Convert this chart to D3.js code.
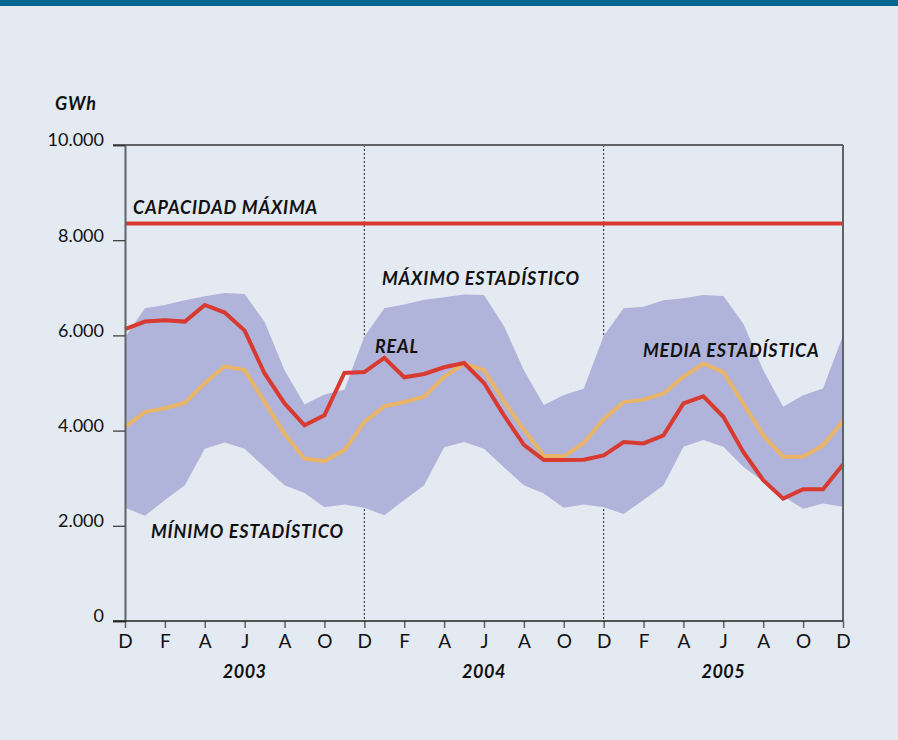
<!DOCTYPE html>
<html>
<head>
<meta charset="utf-8">
<script src="https://cdn.jsdelivr.net/npm/d3@7"></script>
<style>
  body { margin: 0; background: #e3eaf2; }
  svg { display: block; }
</style>
</head>
<body>
<div id="chart"></div>
<script>
(function (d3) {

// monthly values, Dec 2002 .. Dec 2005 (GWh)
var maxEst = [5960, 6570, 6640, 6740, 6820, 6890, 6870, 6280, 5270, 4550, 4760, 4860,
              5970, 6570, 6650, 6750, 6800, 6860, 6850, 6200, 5270, 4540, 4750, 4880,
              5990, 6570, 6600, 6740, 6780, 6850, 6830, 6250, 5270, 4500, 4745, 4885, 6000];
var minEst = [2380, 2210, 2540, 2850, 3620, 3750, 3620, 3230, 2850, 2690, 2390, 2450,
              2380, 2220, 2540, 2850, 3650, 3760, 3620, 3230, 2850, 2680, 2380, 2450,
              2390, 2250, 2540, 2850, 3660, 3800, 3660, 3240, 2930, 2620, 2360, 2470, 2400];
var mediaEst = [4080, 4390, 4470, 4580, 5000, 5350, 5270, 4600, 3930, 3410, 3360, 3590,
                4180, 4510, 4600, 4710, 5130, 5410, 5270, 4620, 4020, 3470, 3460, 3740,
                4240, 4600, 4650, 4780, 5130, 5410, 5230, 4570, 3900, 3450, 3450, 3690, 4200];
var real = [6130, 6290, 6320, 6290, 6640, 6480, 6100, 5200, 4570, 4110, 4320, 5210,
            5230, 5530, 5120, 5190, 5330, 5420, 5000, 4320, 3700, 3380, 3380, 3390,
            3480, 3760, 3730, 3900, 4570, 4720, 4290, 3550, 2960, 2570, 2770, 2770, 3290];
var capacidad = 8350;

var monthTicks = ["D", "F", "A", "J", "A", "O", "D", "F", "A", "J", "A", "O", "D", "F", "A", "J", "A", "O", "D"];
var years = ["2003", "2004", "2005"];
var yTicks = [0, 2000, 4000, 6000, 8000, 10000];

var width = 898;
var height = 740;
var left = 125, right = 843, top = 145, bottom = 621;

var red = "#d93a30";
var orange = "#e8b468";
var band = "#b0b3da";
var axisGrey = "#5f6368";
var font = "Lato, 'Open Sans', sans-serif";

var svg = d3.select('#chart')
    .append('svg')
    .attr('width', width)
    .attr('height', height);

svg.append('rect')
    .attr('width', width)
    .attr('height', height)
    .attr('fill', '#e3eaf2');

svg.append('rect')
    .attr('width', width)
    .attr('height', 6)
    .attr('fill', '#00668f');

var x = d3.scaleLinear()
    .domain([0, real.length - 1])
    .range([left, right]);

var y = d3.scaleLinear()
    .domain([0, 10000])
    .range([bottom, top]);

var es = d3.formatLocale({ decimal: ",", thousands: ".", grouping: [3], currency: ["", "€"] });
var fmt = es.format(",");

// dotted year separators (behind the band)
svg.selectAll('.sep')
    .data([12, 24])
    .enter()
    .append('line')
    .attr('class', 'sep')
    .attr('x1', function (d) { return x(d); })
    .attr('x2', function (d) { return x(d); })
    .attr('y1', y(10000))
    .attr('y2', y(0))
    .attr('stroke', '#222')
    .attr('stroke-width', 1)
    .attr('stroke-dasharray', '2,2');

// statistical band
var area = d3.area()
    .x(function (d, i) { return x(i); })
    .y0(function (d, i) { return y(minEst[i]); })
    .y1(function (d) { return y(d); });

svg.append('path')
    .datum(maxEst)
    .attr('d', area)
    .attr('fill', band);

var line = d3.line()
    .x(function (d, i) { return x(i); })
    .y(function (d) { return y(d); });

svg.append('path')
    .datum(mediaEst)
    .attr('d', line)
    .attr('fill', 'none')
    .attr('stroke', orange)
    .attr('stroke-width', 4)
    .attr('stroke-linejoin', 'miter');

svg.append('path')
    .datum(real)
    .attr('d', line)
    .attr('fill', 'none')
    .attr('stroke', red)
    .attr('stroke-width', 4)
    .attr('stroke-linejoin', 'miter');

// capacity line
svg.append('line')
    .attr('x1', x(0))
    .attr('x2', x(real.length - 1))
    .attr('y1', y(capacidad))
    .attr('y2', y(capacidad))
    .attr('stroke', red)
    .attr('stroke-width', 4);

// frame: top and right edges
svg.append('line')
    .attr('x1', left - 12).attr('x2', right)
    .attr('y1', top).attr('y2', top)
    .attr('stroke', axisGrey).attr('stroke-width', 2);
svg.append('line')
    .attr('x1', right).attr('x2', right)
    .attr('y1', top).attr('y2', bottom)
    .attr('stroke', axisGrey).attr('stroke-width', 2);

// y axis
var yAxis = svg.append('g')
    .attr('transform', 'translate(' + left + ',0)')
    .call(d3.axisLeft(y).tickValues(yTicks).tickSize(12).tickPadding(9).tickFormat(fmt));
yAxis.select('.domain').attr('stroke', axisGrey).attr('stroke-width', 2);
yAxis.selectAll('.tick line').attr('stroke', '#333').attr('stroke-width', 1.2);
yAxis.selectAll('.tick text')
    .attr('font-family', font)
    .attr('font-size', 18)
    .attr('fill', '#111')
    .attr('dy', '0.05em');

// x axis
var xAxis = svg.append('g')
    .attr('transform', 'translate(0,' + bottom + ')')
    .call(d3.axisBottom(x)
      .tickValues(d3.range(0, real.length, 2))
      .tickSize(7)
      .tickPadding(7)
      .tickFormat(function (d, i) { return monthTicks[i]; }));
xAxis.select('.domain').remove();
xAxis.append('line')
    .attr('x1', left - 12).attr('x2', right)
    .attr('stroke', '#222').attr('stroke-width', 1.5);
xAxis.selectAll('.tick line').attr('stroke', axisGrey).attr('stroke-width', 1.5);
xAxis.selectAll('.tick text')
    .attr('font-family', font)
    .attr('font-size', 19)
    .attr('fill', '#111');

// year labels
svg.selectAll('.year')
    .data(years)
    .enter()
    .append('text')
    .attr('class', 'year')
    .attr('x', function (d, i) { return x(6 + i * 12); })
    .attr('y', 678)
    .attr('text-anchor', 'middle')
    .attr('font-family', font)
    .attr('font-size', 18)
    .attr('font-weight', 700)
    .attr('font-style', 'italic')
    .attr('letter-spacing', 0.5)
    .attr('fill', '#111')
    .text(function (d) { return d; });

// annotations
var notes = [
  { t: "GWh", x: 55, y: 110 },
  { t: "CAPACIDAD MÁXIMA", x: 133, y: 214 },
  { t: "MÁXIMO ESTADÍSTICO", x: 382, y: 285 },
  { t: "REAL", x: 375, y: 353 },
  { t: "MEDIA ESTADÍSTICA", x: 643, y: 357 },
  { t: "MÍNIMO ESTADÍSTICO", x: 151, y: 538 }
];

svg.selectAll('.note')
    .data(notes)
    .enter()
    .append('text')
    .attr('class', 'note')
    .attr('x', function (d) { return d.x; })
    .attr('y', function (d) { return d.y; })
    .attr('font-family', font)
    .attr('font-size', 18)
    .attr('font-weight', 700)
    .attr('font-style', 'italic')
    .attr('letter-spacing', 0.8)
    .attr('fill', '#111')
    .text(function (d) { return d.t; });

})(window.d3);
</script>
</body>
</html>
